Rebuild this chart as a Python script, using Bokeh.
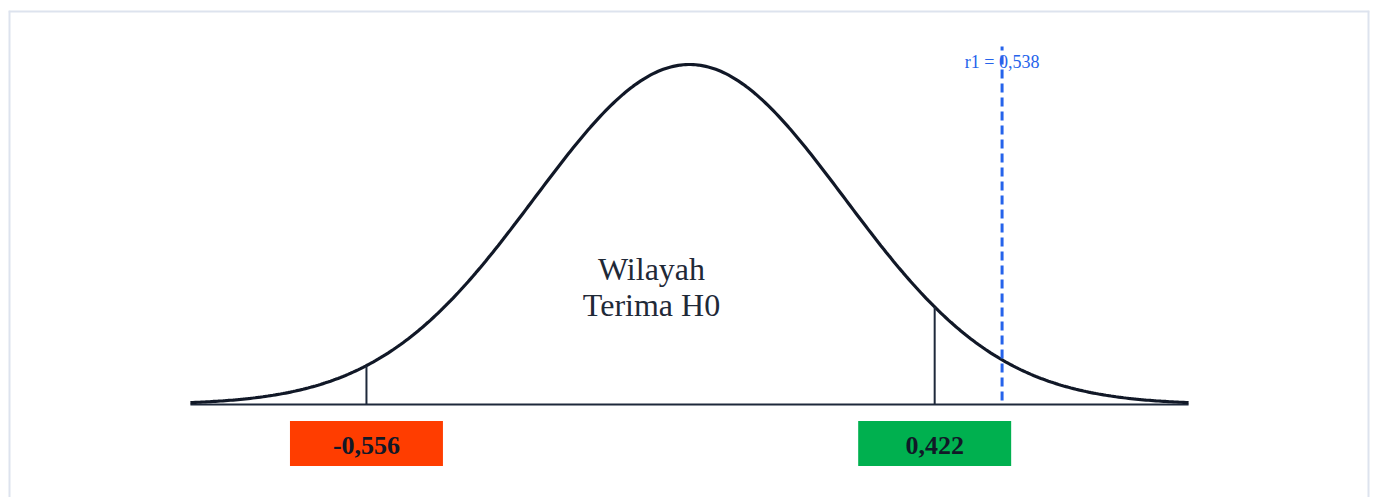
import numpy as np
from bokeh.plotting import figure
from bokeh.models import Range1d
from bokeh.core.properties import value
from bokeh.embed import file_html
from bokeh.resources import INLINE

# ---- data ----
lower_crit = -0.556
upper_crit = 0.422
r1_value = 0.538
lower_label = "-0,556"
upper_label = "0,422"
r1_label = "r1 = 0,538"
region_label = ["Wilayah", "Terima H0"]
curve_sigma = 0.267
curve_extent = 0.859

# bell curve (normal density shape, peak scaled to 1)
xs = np.linspace(-curve_extent, curve_extent, 400)
def bell(x):
    return np.exp(-0.5 * (np.asarray(x) / curve_sigma) ** 2)
ys = bell(xs)

x0, x1 = -1.1721, 1.1704
y0, y1 = -0.2735, 1.1588

p = figure(width=1377, height=497, output_backend="svg", toolbar_location=None,
           x_range=Range1d(x0, x1), y_range=Range1d(y0, y1),
           min_border=0, min_border_left=8, min_border_right=8,
           min_border_top=10, min_border_bottom=0)
p.axis.visible = False
p.grid.visible = False
p.outline_line_color = None
p.background_fill_color = "white"
p.border_fill_color = "white"

# card border (left, top, right; bottom runs off the page)
border = "#dde3ee"
p.line([x0, x0], [y0, y1], line_color=border, line_width=4)
p.line([x1, x1], [y0, y1], line_color=border, line_width=4)
p.line([x0, x1], [y1, y1], line_color=border, line_width=4)

# baseline axis
p.line([-curve_extent, curve_extent], [0, 0], line_color="#1e293b", line_width=2.2)

# curve
p.line(xs, ys, line_color="#111827", line_width=3.2)

# critical lines
for xc in (lower_crit, upper_crit):
    p.line([xc, xc], [0, float(bell(xc))], line_color="#1e293b", line_width=2)

# r1 dashed line
p.line([r1_value, r1_value], [0.012, 1.053], line_color="#2563eb", line_width=3,
       line_dash="9 5")
p.text([r1_value], [1.0088], text=[r1_label], text_align="center",
       text_baseline="middle", text_font=value("Liberation Serif"),
       text_font_size="18px", text_color="#2563eb")

# region label
p.text([-0.0654, -0.0654], [0.3985, 0.2941], text=region_label, text_align="center",
       text_baseline="middle", text_font=value("Liberation Serif"),
       text_font_size="32px", text_color="#1f2937")

# boxes
bw = 0.2633
bh = 0.1324
by = -0.1147
p.rect([lower_crit], [by], width=bw, height=bh, fill_color="#ff3d00", line_color=None)
p.rect([upper_crit], [by], width=bw, height=bh, fill_color="#00b04f", line_color=None)
p.text([lower_crit, upper_crit], [-0.1191, -0.1191], text=[lower_label, upper_label],
       text_align="center", text_baseline="middle",
       text_font=value("Liberation Serif"), text_font_style="bold",
       text_font_size="26px", text_color="#111827")

open("out.html", "w").write(file_html(p, INLINE))
